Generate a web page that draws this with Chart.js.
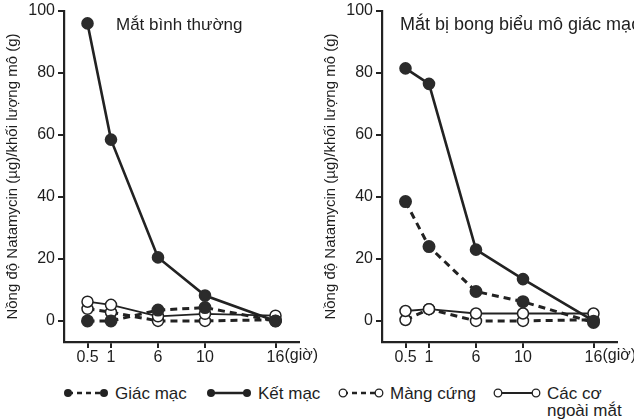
<!DOCTYPE html>
<html>
<head>
<meta charset="utf-8">
<script src="https://cdn.jsdelivr.net/npm/chart.js@4/dist/chart.umd.min.js"></script>
<style>
  body { margin: 0; background: #fff; font-family: "Liberation Sans", Arial, sans-serif; color: #1e1e1e; }
  #wrap { position: relative; width: 634px; height: 419px; overflow: hidden; }
  canvas { position: absolute; top: 0; }
  #cLeft { left: 0; }
  #cRight { left: 318px; }
  .lg { position: absolute; font-size: 17px; line-height: 17px; white-space: nowrap; }
  .sym { position: absolute; }
</style>
</head>
<body>
<div id="wrap">
  <canvas id="cLeft" width="318" height="365"></canvas>
  <canvas id="cRight" width="316" height="365"></canvas>

  <svg class="sym" style="left:63px;top:387px" width="46" height="12">
    <line x1="5" y1="6" x2="41" y2="6" stroke="#222" stroke-width="2.5" stroke-dasharray="5 4"/>
    <circle cx="5" cy="6" r="4" fill="#222"/><circle cx="41" cy="6" r="4" fill="#222"/>
  </svg>
  <div class="lg" style="left:115px;top:385px">Giác mạc</div>

  <svg class="sym" style="left:206px;top:387px" width="46" height="12">
    <line x1="5" y1="6" x2="41" y2="6" stroke="#222" stroke-width="2.5"/>
    <circle cx="5" cy="6" r="4" fill="#222"/><circle cx="41" cy="6" r="4" fill="#222"/>
  </svg>
  <div class="lg" style="left:258px;top:385px">Kết mạc</div>

  <svg class="sym" style="left:338px;top:387px" width="46" height="12">
    <line x1="5" y1="6" x2="41" y2="6" stroke="#222" stroke-width="2.5" stroke-dasharray="5 4"/>
    <circle cx="5" cy="6" r="3.8" fill="#fff" stroke="#222" stroke-width="1.3"/><circle cx="41" cy="6" r="3.8" fill="#fff" stroke="#222" stroke-width="1.3"/>
  </svg>
  <div class="lg" style="left:390px;top:385px">Màng cứng</div>

  <svg class="sym" style="left:493px;top:387px" width="48" height="12">
    <line x1="5" y1="6" x2="43" y2="6" stroke="#222" stroke-width="2"/>
    <circle cx="5" cy="6" r="3.8" fill="#fff" stroke="#222" stroke-width="1.3"/><circle cx="43" cy="6" r="3.8" fill="#fff" stroke="#222" stroke-width="1.3"/>
  </svg>
  <div class="lg" style="left:547px;top:385px">Các cơ<br>ngoài mắt</div>
</div>

<script>
// time points (hours) and the axis slots they sit in (blank slots give the uneven spacing)
const hours = ['0.5', '1', '6', '10', '16'];
const slotLabels = ['', '0.5', '1', '', '6', '', '10', '', '', '16', ''];
const yTicks = [0, 20, 40, 60, 80, 100];

// normal eye
const normalGiacMac = [0, 0, 3.5, 4.3, 0];
const normalKetMac = [96, 58.5, 20.5, 8.2, 0];
const normalMangCung = [3.9, 2.8, 0, 0, 0.4];
const normalCacCo = [6.2, 5.2, 1.5, 2.3, 1.7];

// eye with corneal epithelium removed
const injuredGiacMac = [38.5, 24, 9.5, 6.2, -0.5];
const injuredKetMac = [81.5, 76.5, 23, 13.5, 0];
const injuredMangCung = [0.3, 3.8, 0, 0, 0.4];
const injuredCacCo = [3.2, 3.8, 2.4, 2.4, 2.4];

const INK = '#222';
const FONT = '"Liberation Sans", Arial, sans-serif';

function pts(values) {
    return values.map((v, i) => ({ x: hours[i], y: v }));
}

function makeDatasets(giac, ket, mang, cac) {
    return [
        { label: 'Kết mạc', data: pts(ket), borderColor: INK, borderWidth: 2.6,
          pointBackgroundColor: '#2b2b2b', pointBorderColor: '#2b2b2b', pointRadius: 5 },
        { label: 'Giác mạc', data: pts(giac), borderColor: INK, borderWidth: 3, borderDash: [7, 5],
          pointBackgroundColor: '#2b2b2b', pointBorderColor: '#2b2b2b', pointRadius: 5 },
        { label: 'Các cơ ngoài mắt', data: pts(cac), borderColor: INK, borderWidth: 1.8,
          pointBackgroundColor: '#fff', pointBorderColor: INK, pointBorderWidth: 1.5, pointRadius: 5.5 },
        { label: 'Màng cứng', data: pts(mang), borderColor: INK, borderWidth: 3, borderDash: [7, 5],
          pointBackgroundColor: '#fff', pointBorderColor: INK, pointBorderWidth: 1.5, pointRadius: 5.5 }
    ];
}

// tick marks only under the labelled slots
const xTickColor = ctx => (ctx.tick && ctx.tick.label ? INK : 'rgba(0,0,0,0)');

// panel caption and the "(giờ)" unit after the last hour label
const panelPlugin = {
    id: 'panel',
    afterDraw(chart, args, opts) {
        const c = chart.ctx;
        const xs = chart.scales.x;
        c.save();
        c.fillStyle = '#1e1e1e';
        c.font = '16px ' + FONT;
        c.textBaseline = 'top';
        const lastX = xs.getPixelForValue(slotLabels.indexOf('16'));
        c.fillText('(giờ)', lastX + c.measureText('16').width / 2, chart.chartArea.bottom + 6);
        c.font = opts.captionSize + 'px ' + FONT;
        c.textBaseline = 'alphabetic';
        c.fillText(opts.caption, opts.captionX, 30);
        c.restore();
    }
};

function makeChart(id, datasets, caption, captionX, captionSize, padRight) {
    return new Chart(document.getElementById(id).getContext('2d'), {
        type: 'line',
        data: { labels: slotLabels, datasets: datasets },
        options: {
            responsive: false,
            animation: false,
            clip: false,
            layout: { padding: { top: 11, right: padRight, left: 0, bottom: 0 } },
            plugins: {
                legend: { display: false },
                tooltip: { enabled: false },
                panel: { caption: caption, captionX: captionX, captionSize: captionSize }
            },
            scales: {
                x: {
                    type: 'category',
                    grid: { display: true, drawOnChartArea: false, drawTicks: true, tickLength: 6,
                            lineWidth: 2, color: xTickColor, tickColor: xTickColor },
                    border: { display: true, color: INK, width: 2.2 },
                    ticks: { autoSkip: false, maxRotation: 0, padding: 0, color: '#1e1e1e',
                             font: { family: FONT, size: 16 } },
                    afterFit: s => { s.height = 23; }
                },
                y: {
                    min: -6.8,
                    max: 100,
                    grid: { display: true, drawOnChartArea: false, drawTicks: true, tickLength: 6,
                            lineWidth: 2, color: INK },
                    border: { display: true, color: INK, width: 2.2 },
                    afterBuildTicks: s => { s.ticks = yTicks.map(v => ({ value: v })); },
                    ticks: { padding: 3, color: '#1e1e1e', font: { family: FONT, size: 16 } },
                    title: {
                        display: true,
                        text: 'Nồng độ Natamycin (µg)/khối lượng mô (g)',
                        color: '#1e1e1e',
                        padding: { top: 4, bottom: 0 },
                        font: { family: FONT, size: 15 }
                    },
                    afterFit: s => { s.width = 64; s.paddingTop = 0; s.paddingBottom = 0; }
                }
            }
        },
        plugins: [panelPlugin]
    });
}

makeChart('cLeft', makeDatasets(normalGiacMac, normalKetMac, normalMangCung, normalCacCo),
    'Mắt bình thường', 116, 17, 19);
makeChart('cRight', makeDatasets(injuredGiacMac, injuredKetMac, injuredMangCung, injuredCacCo),
    'Mắt bị bong biểu mô giác mạc', 82, 18, 17);
</script>
</body>
</html>
